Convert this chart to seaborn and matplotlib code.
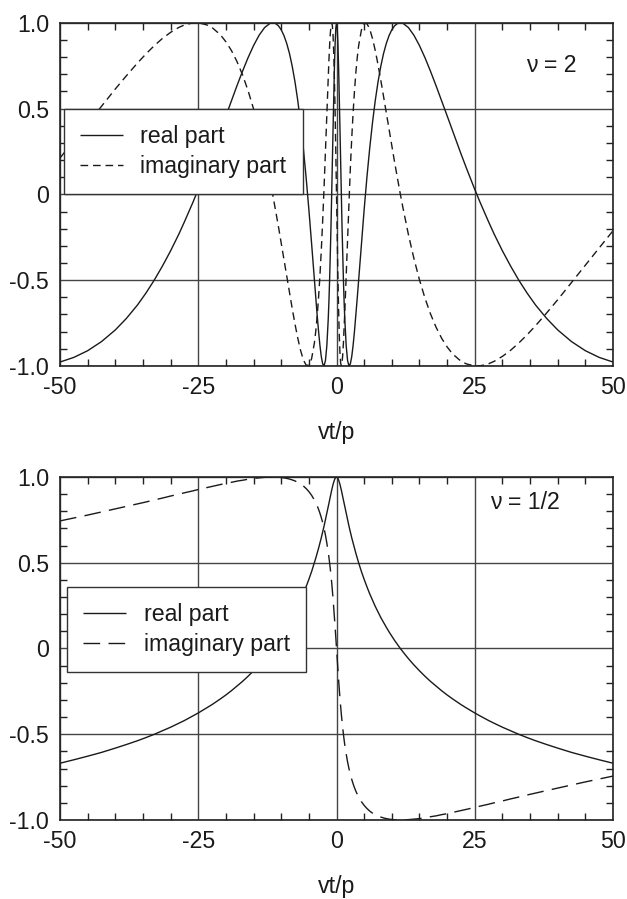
import matplotlib
matplotlib.use("Agg")
import matplotlib.pyplot as plt
from matplotlib.ticker import MultipleLocator
import numpy as np
import pandas as pd
import seaborn as sns

# values (x >= 0 half; real part is even, imaginary part odd)
x_half = [0, 0.125, 0.25, 0.375, 0.5, 0.625, 0.75, 0.875, 1, 1.125, 1.25, 1.375, 1.5,
          1.75, 2, 2.25, 2.5, 2.75, 3, 3.25, 3.5, 3.75, 4,
          4.5, 5, 5.5, 6, 6.5, 7, 7.5, 8, 8.5, 9, 9.5, 10, 10.5, 11, 11.5, 12,
          13, 14, 15, 16, 17, 18, 19, 20, 21,
          22.5, 23.5, 25, 26, 27.5, 28.5, 30, 31.5, 33, 34.5, 36, 38, 40, 42.5, 45, 47.5, 50]

# nu = 2
real_nu2 = [1.0, 0.969, 0.880, 0.743, 0.571, 0.381, 0.184, -0.010, -0.191, -0.355, -0.501, -0.626, -0.730,
            -0.882, -0.968, -0.999, -0.988, -0.946, -0.880, -0.797, -0.704, -0.604, -0.500,
            -0.289, -0.088, 0.100, 0.268, 0.416, 0.545, 0.654, 0.745, 0.820, 0.879, 0.925, 0.959, 0.982, 0.995, 1.0, 0.997,
            0.972, 0.927, 0.867, 0.796, 0.717, 0.633, 0.546, 0.458, 0.369,
            0.237, 0.152, 0.029, -0.049, -0.160, -0.231, -0.329, -0.419, -0.502, -0.577, -0.645, -0.723, -0.790, -0.858, -0.911, -0.950, -0.977]
imag_nu2 = [0.0, -0.247, -0.475, -0.669, -0.821, -0.925, -0.983, -1.0, -0.982, -0.935, -0.866, -0.780, -0.683,
            -0.470, -0.252, -0.041, 0.152, 0.325, 0.475, 0.603, 0.710, 0.797, 0.866,
            0.957, 0.996, 0.995, 0.964, 0.909, 0.839, 0.757, 0.667, 0.573, 0.476, 0.379, 0.283, 0.188, 0.097, 0.008, -0.076,
            -0.234, -0.374, -0.498, -0.605, -0.697, -0.774, -0.838, -0.889, -0.930,
            -0.972, -0.988, -1.0, -0.999, -0.987, -0.973, -0.944, -0.908, -0.865, -0.817, -0.765, -0.691, -0.614, -0.513, -0.412, -0.312, -0.212]

# nu = 1/2
real_nu12 = [1.0, 0.998, 0.992, 0.983, 0.971, 0.957, 0.941, 0.923, 0.905, 0.885, 0.866, 0.846, 0.827,
             0.788, 0.751, 0.714, 0.680, 0.646, 0.615, 0.584, 0.555, 0.527, 0.500,
             0.449, 0.403, 0.360, 0.319, 0.282, 0.246, 0.213, 0.181, 0.152, 0.124, 0.097, 0.072, 0.047, 0.024, 0.002, -0.019,
             -0.059, -0.096, -0.130, -0.162, -0.192, -0.219, -0.246, -0.271, -0.294,
             -0.327, -0.347, -0.376, -0.394, -0.420, -0.436, -0.459, -0.480, -0.501, -0.520, -0.538, -0.560, -0.581, -0.606, -0.628, -0.649, -0.669]
imag_nu12 = [0.0, -0.062, -0.124, -0.182, -0.238, -0.291, -0.340, -0.385, -0.427, -0.465, -0.500, -0.533, -0.563,
             -0.615, -0.661, -0.700, -0.734, -0.763, -0.789, -0.812, -0.832, -0.850, -0.866,
             -0.893, -0.915, -0.933, -0.948, -0.960, -0.969, -0.977, -0.983, -0.988, -0.992, -0.995, -0.997, -0.999, -1.0, -1.0, -1.0,
             -0.998, -0.995, -0.992, -0.987, -0.981, -0.976, -0.969, -0.963, -0.956,
             -0.945, -0.938, -0.927, -0.919, -0.908, -0.900, -0.889, -0.877, -0.866, -0.854, -0.843, -0.828, -0.814, -0.796, -0.778, -0.761, -0.744]

x_ticks = [-50, -25, 0, 25, 50]
x_tick_labels = ["-50", "-25", "0", "25", "50"]
y_ticks = [-1.0, -0.5, 0.0, 0.5, 1.0]
y_tick_labels = ["-1.0", "-0.5", "0", "0.5", "1.0"]
labels = ["real part", "imaginary part"]

FS = 16.7
INK = "#1a1a1a"


def full_curve(half, even):
    half = np.asarray(half, dtype=float)
    left = half[:0:-1] if even else -half[:0:-1]
    return np.concatenate([left, half])


def make_frame(real_half, imag_half):
    xh = np.asarray(x_half, dtype=float)
    x = np.concatenate([-xh[:0:-1], xh])
    df_re = pd.DataFrame({"x": x, "value": full_curve(real_half, True), "part": labels[0]})
    df_im = pd.DataFrame({"x": x, "value": full_curve(imag_half, False), "part": labels[1]})
    return pd.concat([df_re, df_im], ignore_index=True)


def draw_panel(ax, df, dash, nu_text, nu_xy, legend_anchor):
    sns.lineplot(data=df, x="x", y="value", style="part", style_order=labels,
                 dashes={labels[0]: (1, 0), labels[1]: dash},
                 color=INK, linewidth=1.0, estimator=None, sort=False, ax=ax)
    ax.set_xlim(-50, 50)
    ax.set_ylim(-1.0, 1.0)
    ax.set_xticks(x_ticks)
    ax.set_xticklabels(x_tick_labels)
    ax.set_yticks(y_ticks)
    ax.set_yticklabels(y_tick_labels)
    ax.xaxis.set_minor_locator(MultipleLocator(5))
    ax.yaxis.set_minor_locator(MultipleLocator(0.1))
    ax.tick_params(which="both", direction="in", top=True, right=True,
                   color="#222222", width=1.0, labelcolor=INK)
    ax.tick_params(which="major", length=0)
    ax.tick_params(which="minor", length=5)
    ax.tick_params(axis="x", which="major", pad=7, labelsize=FS)
    ax.tick_params(axis="y", which="major", pad=8, labelsize=FS)
    ax.grid(True, which="major", color="#444444", linewidth=1.0)
    ax.set_axisbelow(True)
    for s in ax.spines.values():
        s.set_linewidth(1.2)
        s.set_color("#222222")
    ax.set_xlabel("vt/p", fontsize=FS, labelpad=16, color=INK)
    ax.set_ylabel("")
    ax.text(nu_xy[0], nu_xy[1], nu_text, fontsize=FS, ha="left", va="center", color=INK)

    handles, labs = ax.get_legend_handles_labels()
    leg = ax.legend(handles, labs, loc="lower left", bbox_to_anchor=legend_anchor,
                    borderaxespad=0, fontsize=FS, handlelength=1.85, handletextpad=0.75,
                    borderpad=0.7, labelspacing=0.3, fancybox=False, framealpha=1)
    leg.get_frame().set_edgecolor("#333333")
    leg.get_frame().set_linewidth(1.0)
    for t in leg.get_texts():
        t.set_color(INK)


sns.set_style("ticks")
plt.rcParams["font.family"] = ["Liberation Sans", "DejaVu Sans"]

fig = plt.figure(figsize=(6.27, 8.99), dpi=100)
ax1 = fig.add_axes([0.0957, 0.5929, 0.882, 0.3818])
ax2 = fig.add_axes([0.0957, 0.0879, 0.882, 0.3815])

draw_panel(ax1, make_frame(real_nu2, imag_nu2), (5.5, 3.5), "\u03bd = 2", (34.2, 0.75), (0.007, 0.5))
draw_panel(ax2, make_frame(real_nu12, imag_nu12), (12, 6), "\u03bd = 1/2", (27.7, 0.85), (0.013, 0.431))

fig.savefig("out.png", dpi=100)
